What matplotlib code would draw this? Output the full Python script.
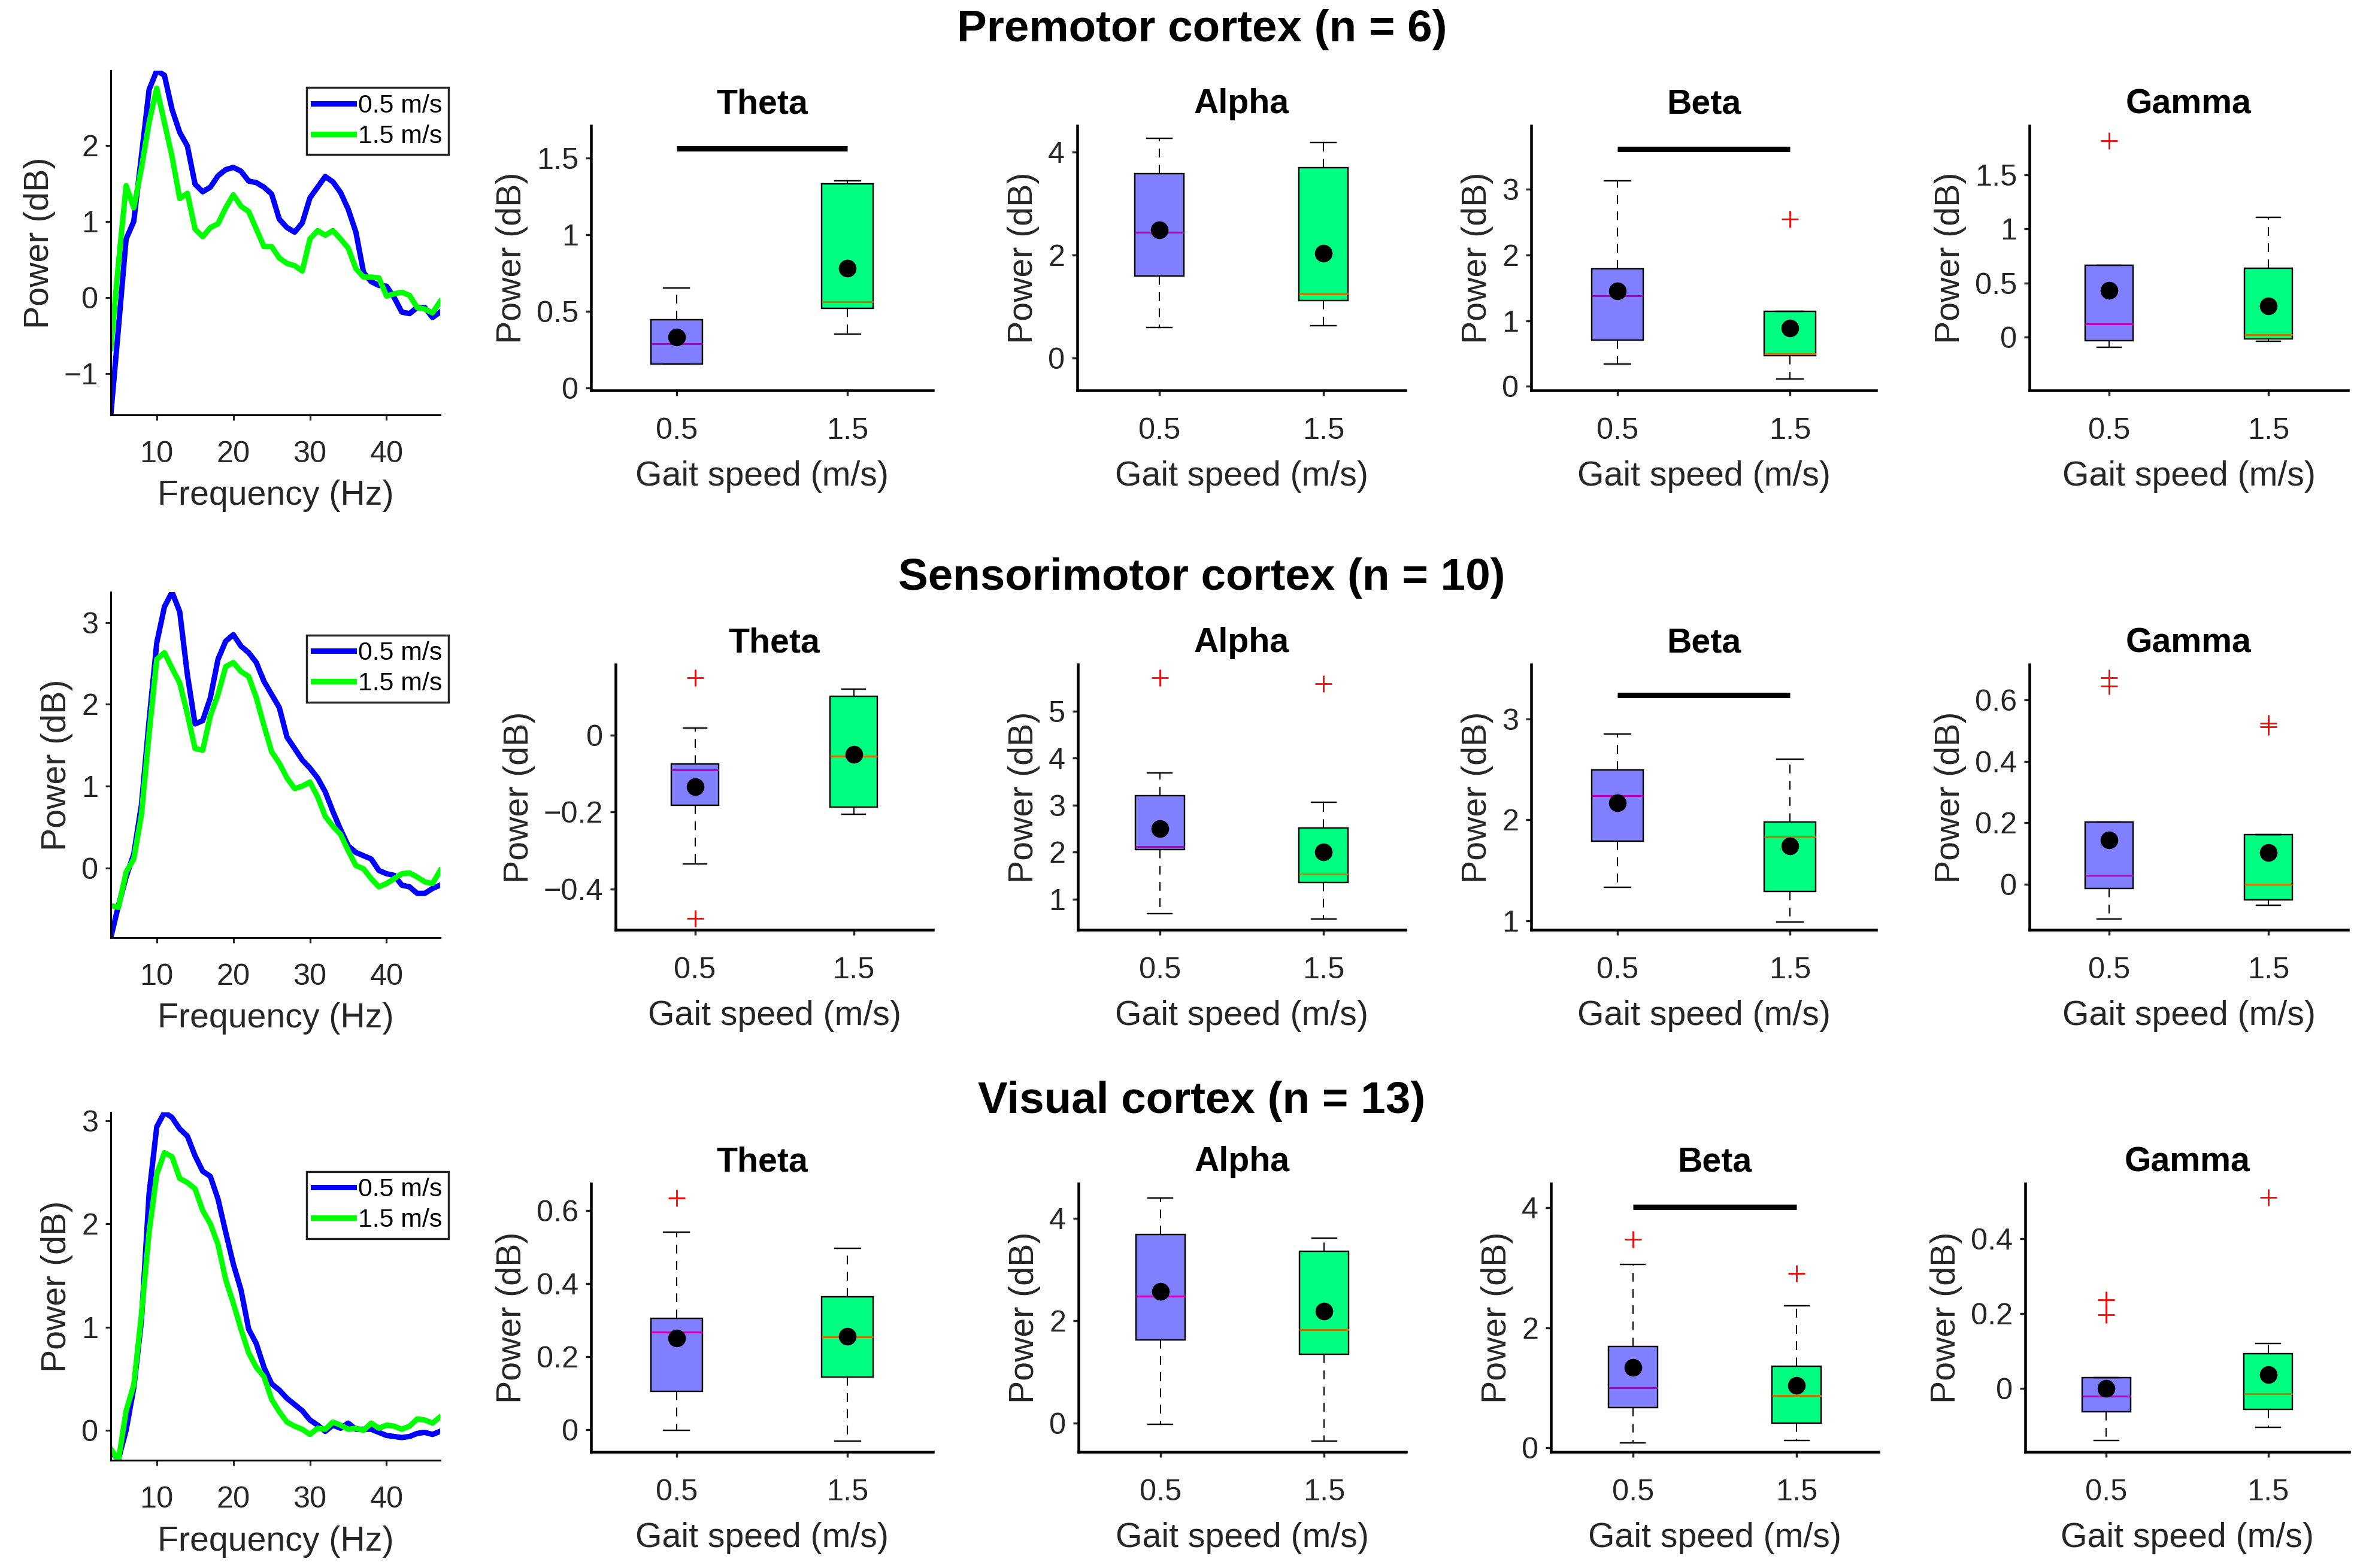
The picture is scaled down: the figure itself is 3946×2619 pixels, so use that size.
import numpy as np
import matplotlib
matplotlib.use("Agg")
import matplotlib.pyplot as plt
from matplotlib.ticker import MultipleLocator, FuncFormatter

plt.rcParams['font.family'] = ['Liberation Sans', 'DejaVu Sans']

# ---------------- data ----------------
regions = ["Premotor cortex (n = 6)", "Sensorimotor cortex (n = 10)", "Visual cortex (n = 13)"]
bands = ["Theta", "Alpha", "Beta", "Gamma"]
speeds = ["0.5", "1.5"]
speed_labels = ["0.5 m/s", "1.5 m/s"]

freqs = np.arange(4, 48)

pm_slow = [-1.54, -0.40, 0.77, 1.00, 1.86, 2.73, 2.98, 2.92, 2.47, 2.17, 1.99, 1.49, 1.39, 1.45, 1.60,
           1.68, 1.71, 1.66, 1.53, 1.51, 1.45, 1.36, 1.03, 0.92, 0.86, 0.98, 1.31, 1.45, 1.59, 1.52,
           1.38, 1.16, 0.86, 0.33, 0.21, 0.16, 0.15, 0.00, -0.19, -0.21, -0.13, -0.13, -0.26, -0.19]
pm_fast = [-0.67, 0.45, 1.47, 1.18, 1.70, 2.30, 2.75, 2.30, 1.85, 1.30, 1.37, 0.90, 0.80, 0.92, 0.97,
           1.18, 1.35, 1.20, 1.13, 0.90, 0.67, 0.67, 0.52, 0.45, 0.42, 0.35, 0.77, 0.88, 0.82, 0.88,
           0.77, 0.65, 0.38, 0.27, 0.27, 0.26, 0.02, 0.05, 0.07, 0.03, -0.13, -0.15, -0.20, -0.05]
sm_slow = [-0.85, -0.46, -0.11, 0.17, 0.77, 1.80, 2.75, 3.19, 3.37, 3.13, 2.36, 1.76, 1.80, 2.08, 2.55,
           2.77, 2.85, 2.71, 2.63, 2.51, 2.28, 2.12, 1.96, 1.60, 1.46, 1.32, 1.22, 1.10, 0.93, 0.69,
           0.47, 0.27, 0.19, 0.15, 0.11, -0.03, -0.07, -0.09, -0.21, -0.23, -0.31, -0.31, -0.25, -0.21]
sm_fast = [-0.46, -0.48, -0.05, 0.11, 0.65, 1.64, 2.55, 2.63, 2.44, 2.26, 1.88, 1.46, 1.44, 1.86, 2.12,
           2.46, 2.51, 2.40, 2.34, 2.08, 1.74, 1.42, 1.28, 1.10, 0.97, 1.00, 1.05, 0.87, 0.63, 0.51,
           0.41, 0.21, 0.03, -0.01, -0.13, -0.23, -0.19, -0.13, -0.07, -0.06, -0.11, -0.17, -0.19, -0.03]
vis_slow = [-0.21, -0.28, 0.00, 0.41, 1.06, 2.29, 2.94, 3.08, 3.03, 2.92, 2.85, 2.66, 2.51, 2.46, 2.24,
            1.92, 1.61, 1.36, 0.98, 0.84, 0.61, 0.45, 0.39, 0.31, 0.25, 0.19, 0.10, 0.05, -0.01, 0.05,
            0.02, 0.07, 0.01, 0.01, 0.01, -0.02, -0.05, -0.06, -0.07, -0.06, -0.03, -0.02, -0.04, -0.01]
vis_fast = [-0.18, -0.29, 0.19, 0.44, 1.12, 1.92, 2.48, 2.69, 2.65, 2.44, 2.40, 2.34, 2.13, 2.00, 1.80,
            1.46, 1.23, 0.98, 0.75, 0.61, 0.52, 0.30, 0.18, 0.08, 0.04, 0.01, -0.04, 0.02, 0.01, 0.08,
            0.05, 0.01, 0.02, 0.00, 0.07, 0.02, 0.05, 0.04, 0.01, 0.04, 0.11, 0.10, 0.07, 0.13]

# box stats per band [Theta, Alpha, Beta, Gamma], each [0.5 m/s, 1.5 m/s]
pm_q1 = [[0.155, 0.52], [1.59, 1.12], [0.71, 0.47], [-0.03, -0.013]]
pm_med = [[0.29, 0.56], [2.44, 1.24], [1.38, 0.50], [0.12, 0.023]]
pm_q3 = [[0.445, 1.33], [3.58, 3.70], [1.79, 1.14], [0.666, 0.637]]
pm_lo = [[0.155, 0.35], [0.59, 0.63], [0.34, 0.11], [-0.09, -0.04]]
pm_hi = [[0.65, 1.35], [4.26, 4.19], [3.13, 1.14], [0.666, 1.106]]
pm_mean = [[0.33, 0.78], [2.49, 2.03], [1.45, 0.885], [0.43, 0.29]]
pm_out = [[[], []], [[], []], [[], [2.55]], [[1.81], []]]

sm_q1 = [[-0.182, -0.187], [2.06, 1.35], [1.79, 1.29], [-0.014, -0.051]]
sm_med = [[-0.09, -0.055], [2.125, 1.53], [2.24, 1.83], [0.029, -0.001]]
sm_q3 = [[-0.075, 0.10], [3.20, 2.51], [2.495, 1.98], [0.202, 0.162]]
sm_lo = [[-0.335, -0.206], [0.695, 0.58], [1.33, 0.99], [-0.113, -0.068]]
sm_hi = [[0.018, 0.119], [3.69, 3.06], [2.85, 2.60], [0.202, 0.162]]
sm_mean = [[-0.134, -0.051], [2.505, 2.01], [2.17, 1.74], [0.144, 0.103]]
sm_out = [[[0.149, -0.477], []], [[5.71], [5.58]], [[], []], [[0.673, 0.646], [0.524, 0.512]]]

vis_q1 = [[0.105, 0.144], [1.63, 1.35], [0.67, 0.41], [-0.062, -0.056]]
vis_med = [[0.268, 0.255], [2.48, 1.83], [1.0, 0.865], [-0.02, -0.014]]
vis_q3 = [[0.305, 0.364], [3.69, 3.36], [1.69, 1.355], [0.029, 0.094]]
vis_lo = [[-0.001, -0.03], [-0.02, -0.35], [0.08, 0.12], [-0.139, -0.104]]
vis_hi = [[0.542, 0.497], [4.40, 3.62], [3.05, 2.36], [0.029, 0.121]]
vis_mean = [[0.251, 0.257], [2.58, 2.19], [1.34, 1.04], [0.0, 0.037]]
vis_out = [[[0.635], []], [[], []], [[3.47], [2.90]], [[0.237, 0.197], [0.511]]]

# significant differences: band -> height of bar
pm_sig = {"Theta": 1.56, "Beta": 3.61}
sm_sig = {"Beta": 3.24}
vis_sig = {"Beta": 4.01}

# axis ranges and tick steps
pm_ylim = [(-0.016, 1.71), (-0.63, 4.51), (-0.06, 3.97), (-0.49, 1.95)]
sm_ylim = [(-0.506, 0.183), (0.35, 5.99), (0.91, 3.54), (-0.149, 0.716)]
vis_ylim = [(-0.06, 0.674), (-0.56, 4.68), (-0.07, 4.40), (-0.169, 0.548)]
pm_step = [0.5, 2, 1, 0.5]
sm_step = [0.2, 1, 1, 0.2]
vis_step = [0.2, 2, 2, 0.2]

psd_yticks = [[-1, 0, 1, 2], [0, 1, 2, 3], [0, 1, 2, 3]]

# ---------------- layout (pixels of a 3946 x 2619 canvas) ----------------
W, H = 3946, 2619
psd_rows = [(118, 693), (989, 1566), (1858, 2439)]
psd_x = (185, 735)
box_rows = [(210, 652), (1110, 1553), (1977, 2425)]
box_x = [
    [(987, 1558), (1799, 2347), (2557, 3133), (3389, 3921)],
    [(1028, 1558), (1800, 2347), (2557, 3133), (3389, 3921)],
    [(987, 1558), (1801, 2348), (2590, 3137), (3382, 3923)],
]
title_y = [50, 966, 1840]
legend_y = [0.951, 0.876, 0.83]

line_cols = ["#0000FF", "#00FF00"]
box_cols = ["#8080FF", "#00FF80"]
med_cols = ["#C000B0", "#C07800"]

LAB = 16.5
TICK = 14.5
INK = "#262626"


def fmt(v, pos):
    if abs(v) < 1e-9:
        return "0"
    return f"{round(v, 6):g}".replace("-", "\u2212")


def rect(x0, x1, y0, y1):
    return [x0 / W, 1 - y1 / H, (x1 - x0) / W, (y1 - y0) / H]


fig = plt.figure(figsize=(W / 250, H / 250), dpi=250)

psd = [(pm_slow, pm_fast), (sm_slow, sm_fast), (vis_slow, vis_fast)]
stats = [
    (pm_q1, pm_med, pm_q3, pm_lo, pm_hi, pm_mean, pm_out, pm_sig, pm_ylim, pm_step),
    (sm_q1, sm_med, sm_q3, sm_lo, sm_hi, sm_mean, sm_out, sm_sig, sm_ylim, sm_step),
    (vis_q1, vis_med, vis_q3, vis_lo, vis_hi, vis_mean, vis_out, vis_sig, vis_ylim, vis_step),
]

for r in range(3):
    fig.text(2007 / W, 1 - title_y[r] / H, regions[r], ha="center", va="center",
             fontsize=21.5, fontweight="bold")

    # spectrum
    ax = fig.add_axes(rect(psd_x[0], psd_x[1], *psd_rows[r]))
    for k in range(2):
        ax.plot(freqs, psd[r][k], color=line_cols[k], lw=2.6, label=speed_labels[k])
    allv = np.concatenate([psd[r][0], psd[r][1]])
    ax.set_xlim(freqs[0], freqs[-1])
    ax.set_ylim(allv.min(), allv.max())
    ax.set_xticks([10, 20, 30, 40])
    ax.set_yticks(psd_yticks[r])
    ax.yaxis.set_major_formatter(FuncFormatter(fmt))
    for s in ["top", "right"]:
        ax.spines[s].set_visible(False)
    for s in ["left", "bottom"]:
        ax.spines[s].set_linewidth(0.9)
    ax.tick_params(direction="out", length=2.5, width=0.9, labelsize=TICK, colors=INK)
    ax.tick_params(axis="x", pad=10)
    ax.set_xlabel("Frequency (Hz)", fontsize=LAB, color=INK, labelpad=5.5)
    ax.set_ylabel("Power (dB)", fontsize=LAB, color=INK)
    leg = ax.legend(loc="upper right", bbox_to_anchor=(1.025, legend_y[r]), fontsize=12.3,
                    fancybox=False, edgecolor=INK, framealpha=1, handlelength=1.6,
                    handletextpad=0.15, borderpad=0.25, labelspacing=0.25, borderaxespad=0)
    leg.get_frame().set_linewidth(1.0)

    q1, med, q3, lo, hi, mn, out, sig, ylims, steps = stats[r]
    for b in range(4):
        ax = fig.add_axes(rect(*box_x[r][b], *box_rows[r]))
        bst = []
        for i in range(2):
            bst.append(dict(q1=q1[b][i], med=med[b][i], q3=q3[b][i], whislo=lo[b][i],
                            whishi=hi[b][i], mean=mn[b][i], fliers=out[b][i]))
        bp = ax.bxp(bst, positions=[1, 2], widths=0.3, capwidths=0.15, patch_artist=True,
                    showmeans=True,
                    boxprops=dict(linewidth=0.7, edgecolor="k"),
                    whiskerprops=dict(linewidth=0.6, linestyle=(0, (7, 6)), color="k"),
                    capprops=dict(linewidth=0.7, color="k"),
                    medianprops=dict(linewidth=0.9),
                    meanprops=dict(marker="o", markerfacecolor="k", markeredgecolor="k",
                                   markersize=7.5, zorder=5),
                    flierprops=dict(marker="+", markeredgecolor="red", markersize=8,
                                    markeredgewidth=0.8, linestyle="none"))
        for i in range(2):
            bp["boxes"][i].set_facecolor(box_cols[i])
            bp["medians"][i].set_color(med_cols[i])
        if bands[b] in sig:
            ax.plot([1, 2], [sig[bands[b]]] * 2, color="k", lw=2.6, solid_capstyle="butt")
        ax.set_xlim(0.5, 2.5)
        ax.set_ylim(*ylims[b])
        ax.set_xticks([1, 2])
        ax.set_xticklabels(speeds)
        ax.yaxis.set_major_locator(MultipleLocator(steps[b]))
        ax.yaxis.set_major_formatter(FuncFormatter(fmt))
        for s in ["top", "right"]:
            ax.spines[s].set_visible(False)
        for s in ["left", "bottom"]:
            ax.spines[s].set_linewidth(1.3)
        ax.tick_params(direction="out", length=2.5, width=1.0, labelsize=TICK, colors=INK)
        ax.tick_params(axis="x", pad=10.5)
        ax.set_xlabel("Gait speed (m/s)", fontsize=LAB, color=INK, labelpad=7.5)
        ax.set_ylabel("Power (dB)", fontsize=LAB, color=INK)
        ax.set_title(bands[b], fontsize=LAB, fontweight="bold", pad=6)

fig.savefig("out.png", dpi=250)
